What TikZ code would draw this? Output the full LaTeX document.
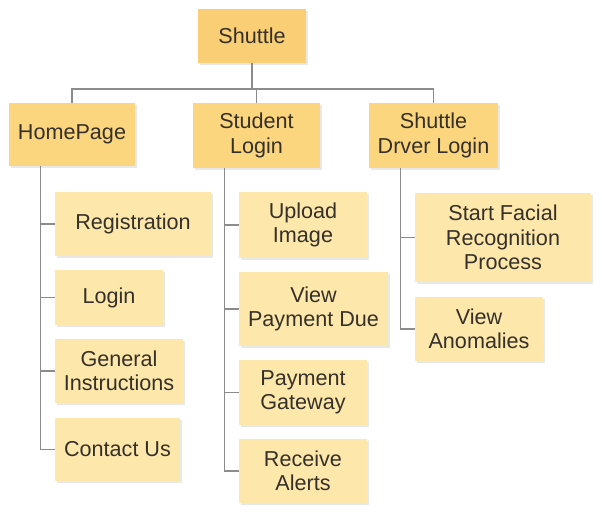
\documentclass[tikz,border=0pt]{standalone}
\usepackage{fontspec}
\setmainfont{Liberation Sans}
\usetikzlibrary{shadows}
\definecolor{headfill}{HTML}{FCD67E}
\definecolor{rootfill}{HTML}{F9CE74}
\definecolor{leaffill}{HTML}{FDE7AA}
\definecolor{inkgray}{HTML}{35302A}
\tikzset{box/.style 2 args={minimum width=#1,minimum height=#2,inner sep=0pt,align=center,
           text=inkgray,font=\fontsize{21.6}{24.5}\selectfont,
           drop shadow={opacity=.18,shadow xshift=1.5pt,shadow yshift=-1.5pt}},
         headbox/.style={fill=headfill},
         leafbox/.style={fill=leaffill},
         wire/.style={draw=black!45,line width=1.1pt}}
\begin{document}
\begin{tikzpicture}[x=1pt,y=-1pt]
  \useasboundingbox (0,0) rectangle (602,528);
  % top levels
  \node[box={108pt}{54pt},fill=rootfill] (shuttle) at (252,36) {Shuttle};
  \node[box={126pt}{63pt},headbox] (home) at (72,134.5) {HomePage};
  \node[box={127pt}{65pt},headbox] (student) at (256.5,135.5) {Student\\Login};
  \node[box={129pt}{65pt},headbox] (driver) at (433.5,135.5) {Shuttle\\Drver Login};
  \coordinate (bus) at (252,89);
  \draw[wire] (shuttle.south) -- (bus);
  \draw[wire] (home.north) |- (bus);
  \draw[wire] (student.north) |- (bus);
  \draw[wire] (driver.north) |- (bus);
  % homepage
  \node[box={156pt}{64pt},leafbox] (reg) at (133,224) {Registration};
  \node[box={108pt}{55pt},leafbox] (login) at (109,297.5) {Login};
  \node[box={128pt}{64pt},leafbox] (geninfo) at (119,371) {General\\Instructions};
  \node[box={125pt}{63pt},leafbox] (contact) at (117.5,449.5) {Contact Us};
  \foreach \n in {reg,login,geninfo,contact}
    \draw[wire] ([xshift=-14pt]reg.west |- home.south) |- (\n.west);
  % student
  \node[box={128pt}{66pt},leafbox] (upload) at (303,225) {Upload\\Image};
  \node[box={149pt}{74pt},leafbox] (paydue) at (313.5,309) {View\\Payment Due};
  \node[box={128pt}{65pt},leafbox] (gateway) at (303,392.5) {Payment\\Gateway};
  \node[box={128pt}{64pt},leafbox] (alerts) at (303,471) {Receive\\Alerts};
  \foreach \n in {upload,paydue,gateway,alerts}
    \draw[wire] ([xshift=-14pt]upload.west |- student.south) |- (\n.west);
  % driver
  \node[box={176pt}{89pt},leafbox] (facial) at (503,237.5) {Start Facial\\Recognition\\Process};
  \node[box={128pt}{64pt},leafbox] (anomaly) at (479,329) {View\\Anomalies};
  \foreach \n in {facial,anomaly}
    \draw[wire] ([xshift=-14pt]facial.west |- driver.south) |- (\n.west);
\end{tikzpicture}
\end{document}
